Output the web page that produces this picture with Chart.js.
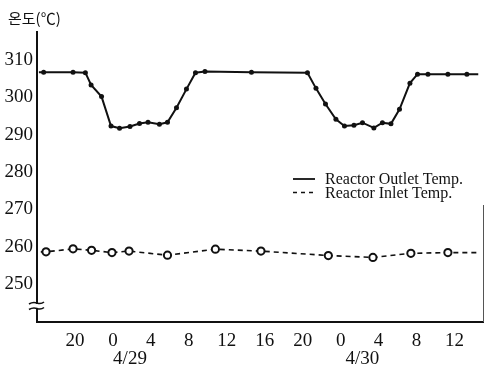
<!DOCTYPE html>
<html>
<head>
<meta charset="utf-8">
<script src="https://cdn.jsdelivr.net/npm/chart.js@4/dist/chart.umd.min.js"></script>
<style>
  html, body { margin: 0; padding: 0; background: #fff; }
  #wrap { width: 485px; height: 367px; position: relative; }
</style>
</head>
<body>
<div id="wrap"><canvas id="c" width="485" height="367"></canvas></div>
<script>
// hours measured from 4/29 00:00
const outletHours = [-7.8, -7.3, -4.2, -2.9, -2.3, -1.2, -0.2, 0.7, 1.8, 2.8, 3.7, 4.9, 5.75, 6.7, 7.75, 8.7, 9.7, 14.6, 20.5, 21.4, 22.4, 23.5, 24.4, 25.4, 26.3, 27.5, 28.4, 29.3, 30.2, 31.3, 32.1, 33.2, 35.3, 37.3, 38.5];
const outletTemps = [306.7, 306.7, 306.7, 306.6, 303.3, 300.2, 292.3, 291.7, 292.2, 293.0, 293.3, 292.8, 293.3, 297.2, 302.2, 306.6, 306.9, 306.7, 306.6, 302.4, 298.2, 294.1, 292.3, 292.5, 293.2, 291.8, 293.2, 292.9, 296.8, 303.8, 306.2, 306.2, 306.2, 306.2, 306.2];

const inletHours = [-7.6, -7.05, -4.2, -2.25, -0.1, 1.7, 5.75, 10.8, 15.6, 22.7, 27.4, 31.4, 35.3, 38.4];
const inletTemps = [258.6, 258.6, 259.4, 259.0, 258.4, 258.8, 257.7, 259.3, 258.8, 257.6, 257.1, 258.2, 258.4, 258.4];

const xTickHours = [-4, 0, 4, 8, 12, 16, 20, 24, 28, 32, 36];
const yTickValues = [250, 260, 270, 280, 290, 300, 310];
const dateLabels = ['4/29', '4/30'];
const dateLabelHours = [1.8, 26.3];
const seriesNames = ['Reactor Outlet Temp.', 'Reactor Inlet Temp.'];
const yAxisTitle = '온도(℃)';

const ink = '#111111';
const serif = "'Liberation Serif', 'DejaVu Serif', serif";

function toXY(xs, ys) { return xs.map((x, i) => ({ x: x, y: ys[i] })); }
function endsHidden(r) {
  return ctx => (ctx.dataIndex === 0 || ctx.dataIndex === ctx.dataset.data.length - 1) ? 0 : r;
}

const deco = {
  id: 'deco',
  afterDraw(chart) {
    const c = chart.ctx;
    const xs = chart.scales.x;
    const ca = chart.chartArea;
    c.save();
    // right partial frame
    c.strokeStyle = '#555';
    c.lineWidth = 1;
    c.beginPath();
    c.moveTo(ca.right + 0.5, 205);
    c.lineTo(ca.right + 0.5, ca.bottom);
    c.stroke();
    // axis break
    const bx = ca.left;
    c.fillStyle = '#fff';
    c.fillRect(bx - 3, 304, 6, 4);
    c.strokeStyle = ink;
    c.lineWidth = 1.6;
    [303, 308.5].forEach(y => {
      c.beginPath();
      c.moveTo(bx - 8, y + 1);
      c.quadraticCurveTo(bx - 4, y - 1.5, bx, y);
      c.quadraticCurveTo(bx + 4, y + 1.5, bx + 7, y - 1);
      c.stroke();
    });
    // y axis title
    c.fillStyle = ink;
    c.font = "15px 'Noto Sans CJK KR', sans-serif";
    c.textAlign = 'left';
    c.textBaseline = 'middle';
    c.fillText(yAxisTitle, 8, 18);
    // date labels
    c.font = '19px ' + serif;
    c.textAlign = 'center';
    c.textBaseline = 'middle';
    dateLabels.forEach((t, i) => {
      c.fillText(t, xs.getPixelForValue(dateLabelHours[i]), 359);
    });
    // legend
    c.font = '16px ' + serif;
    c.textAlign = 'left';
    c.textBaseline = 'middle';
    c.lineWidth = 1.8;
    c.beginPath();
    c.moveTo(293, 179);
    c.lineTo(315, 179);
    c.stroke();
    c.fillText(seriesNames[0], 325, 180);
    c.lineWidth = 1.5;
    c.setLineDash([4, 4]);
    c.beginPath();
    c.moveTo(293, 192.5);
    c.lineTo(317, 192.5);
    c.stroke();
    c.setLineDash([]);
    c.fillText(seriesNames[1], 325, 193.5);
    c.restore();
  }
};

new Chart(document.getElementById('c'), {
  type: 'line',
  data: {
    datasets: [
      {
        label: seriesNames[0],
        data: toXY(outletHours, outletTemps),
        borderColor: ink,
        borderWidth: 2,
        backgroundColor: ink,
        pointRadius: endsHidden(2.5),
        pointBorderWidth: 0,
        pointBackgroundColor: ink,
        tension: 0,
        fill: false
      },
      {
        label: seriesNames[1],
        data: toXY(inletHours, inletTemps),
        borderColor: ink,
        borderWidth: 1.6,
        borderDash: [5, 4],
        pointRadius: endsHidden(3.6),
        pointBorderWidth: 2,
        pointBorderColor: ink,
        pointBackgroundColor: '#fff',
        tension: 0,
        fill: false
      }
    ]
  },
  options: {
    responsive: false,
    animation: false,
    devicePixelRatio: 1,
    layout: { padding: { top: 32, right: 2, left: 0, bottom: 0 } },
    plugins: { legend: { display: false }, tooltip: { enabled: false }, title: { display: false } },
    scales: {
      x: {
        type: 'linear',
        min: -8,
        max: 39,
        grid: { display: false, drawTicks: false },
        border: { display: true, color: ink, width: 2 },
        afterBuildTicks: s => { s.ticks = xTickHours.map(v => ({ value: v })); },
        afterFit: s => { s.height = 45; },
        ticks: {
          autoSkip: false,
          maxRotation: 0,
          padding: 8,
          color: ink,
          font: { family: serif, size: 19 },
          callback: v => String(((v % 24) + 24) % 24)
        }
      },
      y: {
        min: 239.8,
        max: 317.5,
        grid: { display: false, drawTicks: false },
        border: { display: true, color: ink, width: 2 },
        afterBuildTicks: s => { s.ticks = yTickValues.map(v => ({ value: v })); },
        afterFit: s => { s.width = 37; },
        ticks: {
          padding: 4,
          color: ink,
          font: { family: serif, size: 19 }
        }
      }
    }
  },
  plugins: [deco]
});
</script>
</body>
</html>
